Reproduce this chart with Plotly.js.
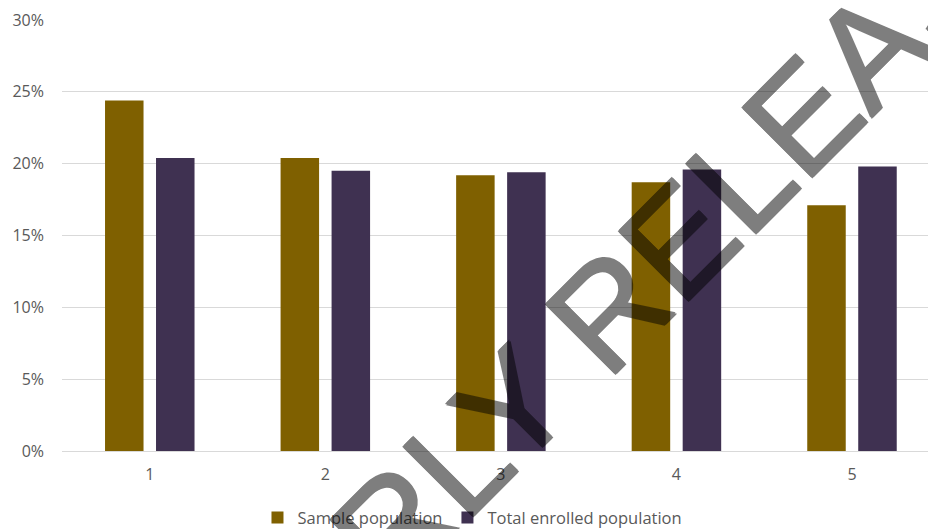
<!DOCTYPE html>
<html>
<head>
<meta charset="utf-8">
<script src="https://cdn.plot.ly/plotly-3.0.1.min.js"></script>
<style>
  html, body { margin: 0; padding: 0; background: #ffffff; }
  #chart { width: 928px; height: 529px; }
</style>
</head>
<body>
<div id="chart"></div>
<script>
// Share of each group, in percent
const groups = ['1', '2', '3', '4', '5'];
const samplePopulation = [24.4, 20.4, 19.2, 18.7, 17.1];
const totalEnrolledPopulation = [20.4, 19.5, 19.4, 19.6, 19.8];
const yTickValues = [0, 5, 10, 15, 20, 25, 30];
const yTickLabels = ['0%', '5%', '10%', '15%', '20%', '25%', '30%'];
const seriesNames = ['Sample population', 'Total enrolled population'];
const watermarkText = 'EARLY RELEASE';

const tickFont = { family: 'Open Sans, Liberation Sans, sans-serif', size: 16, color: '#595959' };
const legendFont = { family: 'Open Sans, Liberation Sans, sans-serif', size: 16.5, color: '#595959' };

const traces = [
  {
    type: 'bar',
    name: seriesNames[0],
    x: groups,
    y: samplePopulation,
    marker: { color: '#7F6000', line: { width: 0 } },
    hoverinfo: 'skip'
  },
  {
    type: 'bar',
    name: seriesNames[1],
    x: groups,
    y: totalEnrolledPopulation,
    marker: { color: '#3F3151', line: { width: 0 } },
    hoverinfo: 'skip'
  }
];

const layout = {
  width: 928,
  height: 529,
  margin: { l: 62, r: 0, t: 20, b: 78, autoexpand: false },
  paper_bgcolor: '#ffffff',
  plot_bgcolor: '#ffffff',
  barmode: 'group',
  bargap: 0.419,
  bargroupgap: 0.245,
  showlegend: true,
  legend: {
    orientation: 'h',
    x: 0.474,
    xanchor: 'center',
    y: -0.155,
    yanchor: 'middle',
    font: legendFont,
    itemwidth: 30,
    traceorder: 'normal'
  },
  xaxis: {
    type: 'category',
    range: [-0.5, 4.433],
    showgrid: false,
    showline: false,
    zeroline: false,
    ticks: '',
    tickfont: tickFont,
    ticklabelstandoff: 12,
    fixedrange: true
  },
  yaxis: {
    range: [0, 30],
    tickvals: yTickValues,
    ticktext: yTickLabels,
    showgrid: true,
    gridcolor: '#d9d9d9',
    gridwidth: 1,
    zeroline: true,
    zerolinecolor: '#d9d9d9',
    zerolinewidth: 1,
    showline: false,
    ticks: '',
    tickfont: tickFont,
    ticklabelstandoff: 17,
    fixedrange: true
  },
  annotations: [
    {
      // diagonal watermark, drawn at half opacity as one layer
      text: watermarkText,
      xref: 'paper',
      yref: 'paper',
      x: 0.657,
      y: 0.376,
      xanchor: 'center',
      yanchor: 'middle',
      textangle: -45,
      showarrow: false,
      opacity: 0.5,
      font: {
        family: 'Liberation Sans, Arial, sans-serif',
        size: 143,
        color: '#000000',
        shadow: '1px 1px 0 #000, -1px -1px 0 #000, 1px -1px 0 #000, -1px 1px 0 #000'
      }
    }
  ]
};

Plotly.newPlot('chart', traces, layout, { staticPlot: true, displayModeBar: false });
</script>
</body>
</html>
